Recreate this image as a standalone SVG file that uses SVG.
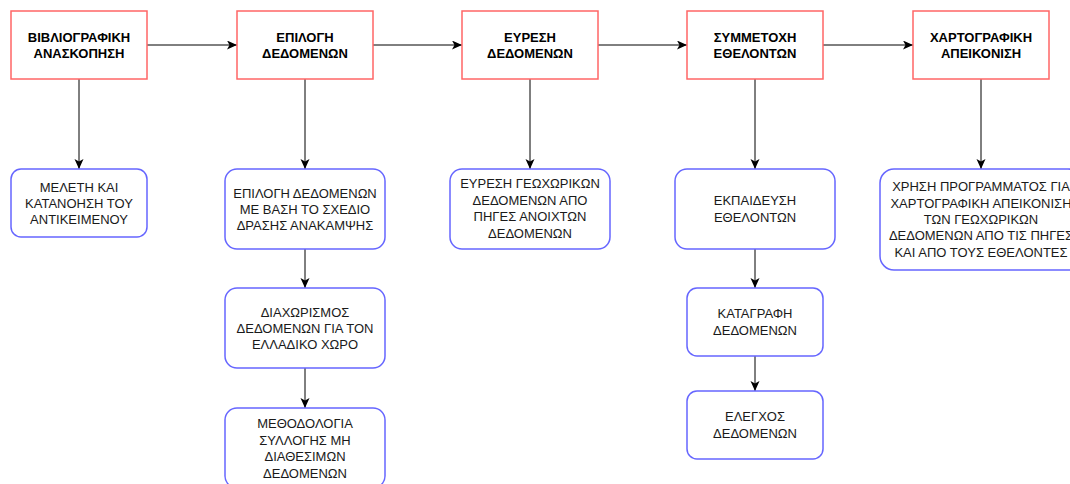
<svg xmlns="http://www.w3.org/2000/svg" width="1070" height="484" viewBox="0 0 1070 484">
<style>
.top{fill:#fff;stroke:#ff6666;stroke-width:1.5}
.sub{fill:#fff;stroke:#6666ff;stroke-width:1.5}
.tt{font-family:"Liberation Sans",Arial,sans-serif;font-size:13px;font-weight:bold;fill:#000;text-anchor:middle}
.st{font-family:"Liberation Sans",Arial,sans-serif;font-size:13px;fill:#1a1a1a;text-anchor:middle}
.ln{fill:none;stroke:#000;stroke-width:1}
</style>
<defs>
<marker id="ah" markerUnits="userSpaceOnUse" markerWidth="12" markerHeight="10" refX="10" refY="4.5" orient="auto">
<path d="M0,0 L10,4.5 L0,9 L2.5,4.5 z" fill="#000"/>
</marker>
</defs>
<rect width="1070" height="484" fill="#fff"/>
<g id="connectors">
<path class="ln" d="M147,45 H237" marker-end="url(#ah)"/>
<path class="ln" d="M373,45 H462" marker-end="url(#ah)"/>
<path class="ln" d="M598,45 H687" marker-end="url(#ah)"/>
<path class="ln" d="M823,45 H913" marker-end="url(#ah)"/>
<path class="ln" d="M79,79 V169" marker-end="url(#ah)"/>
<path class="ln" d="M305,79 V169" marker-end="url(#ah)"/>
<path class="ln" d="M530,79 V169" marker-end="url(#ah)"/>
<path class="ln" d="M755,79 V169" marker-end="url(#ah)"/>
<path class="ln" d="M981,79 V169" marker-end="url(#ah)"/>
<path class="ln" d="M305,249 V288" marker-end="url(#ah)"/>
<path class="ln" d="M305,368 V408" marker-end="url(#ah)"/>
<path class="ln" d="M755,249 V288" marker-end="url(#ah)"/>
<path class="ln" d="M755,356 V391" marker-end="url(#ah)"/>
</g>
<g id="n1"><rect class="top" x="11" y="11" width="136" height="68"/><text class="tt" x="79" y="41.6">ΒΙΒΛΙΟΓΡΑΦΙΚΗ</text><text class="tt" x="79" y="57.6">ΑΝΑΣΚΟΠΗΣΗ</text></g>
<g id="n2"><rect class="top" x="237" y="11" width="136" height="68"/><text class="tt" x="305" y="41.6">ΕΠΙΛΟΓΗ</text><text class="tt" x="305" y="57.6">ΔΕΔΟΜΕΝΩΝ</text></g>
<g id="n3"><rect class="top" x="462" y="11" width="136" height="68"/><text class="tt" x="530" y="41.6">ΕΥΡΕΣΗ</text><text class="tt" x="530" y="57.6">ΔΕΔΟΜΕΝΩΝ</text></g>
<g id="n4"><rect class="top" x="687" y="11" width="136" height="68"/><text class="tt" x="755" y="41.6">ΣΥΜΜΕΤΟΧΗ</text><text class="tt" x="755" y="57.6">ΕΘΕΛΟΝΤΩΝ</text></g>
<g id="n5"><rect class="top" x="913" y="11" width="136" height="68"/><text class="tt" x="981" y="41.6">ΧΑΡΤΟΓΡΑΦΙΚΗ</text><text class="tt" x="981" y="57.6">ΑΠΕΙΚΟΝΙΣΗ</text></g>
<g id="s1"><rect class="sub" x="11" y="169" width="136" height="68" rx="10"/><text class="st" x="79" y="191.6">ΜΕΛΕΤΗ ΚΑΙ</text><text class="st" x="79" y="207.9">ΚΑΤΑΝΟΗΣΗ ΤΟΥ</text><text class="st" x="79" y="224.3">ΑΝΤΙΚΕΙΜΕΝΟΥ</text></g>
<g id="s2a"><rect class="sub" x="225" y="169" width="160" height="80" rx="12"/><text class="st" x="305" y="197.6">ΕΠΙΛΟΓΗ ΔΕΔΟΜΕΝΩΝ</text><text class="st" x="305" y="214">ΜΕ ΒΑΣΗ ΤΟ ΣΧΕΔΙΟ</text><text class="st" x="305" y="230.4">ΔΡΑΣΗΣ ΑΝΑΚΑΜΨΗΣ</text></g>
<g id="s2b"><rect class="sub" x="225" y="288" width="160" height="80" rx="12"/><text class="st" x="305" y="316.6">ΔΙΑΧΩΡΙΣΜΟΣ</text><text class="st" x="305" y="333">ΔΕΔΟΜΕΝΩΝ ΓΙΑ ΤΟΝ</text><text class="st" x="305" y="349.4">ΕΛΛΑΔΙΚΟ ΧΩΡΟ</text></g>
<g id="s2c"><rect class="sub" x="225" y="408" width="160" height="80" rx="12"/><text class="st" x="305" y="428.4">ΜΕΘΟΔΟΛΟΓΙΑ</text><text class="st" x="305" y="444.8">ΣΥΛΛΟΓΗΣ ΜΗ</text><text class="st" x="305" y="461.2">ΔΙΑΘΕΣΙΜΩΝ</text><text class="st" x="305" y="477.6">ΔΕΔΟΜΕΝΩΝ</text></g>
<g id="s3"><rect class="sub" x="450" y="169" width="160" height="80" rx="12"/><text class="st" x="530" y="188.4">ΕΥΡΕΣΗ ΓΕΩΧΩΡΙΚΩΝ</text><text class="st" x="530" y="204.8">ΔΕΔΟΜΕΝΩΝ ΑΠΟ</text><text class="st" x="530" y="221.2">ΠΗΓΕΣ ΑΝΟΙΧΤΩΝ</text><text class="st" x="530" y="237.6">ΔΕΔΟΜΕΝΩΝ</text></g>
<g id="s4a"><rect class="sub" x="675" y="169" width="160" height="80" rx="12"/><text class="st" x="755" y="205.4">ΕΚΠΑΙΔΕΥΣΗ</text><text class="st" x="755" y="221.8">ΕΘΕΛΟΝΤΩΝ</text></g>
<g id="s4b"><rect class="sub" x="687" y="288" width="136" height="68" rx="10"/><text class="st" x="755" y="318.4">ΚΑΤΑΓΡΑΦΗ</text><text class="st" x="755" y="334.8">ΔΕΔΟΜΕΝΩΝ</text></g>
<g id="s4c"><rect class="sub" x="687" y="391" width="136" height="68" rx="10"/><text class="st" x="755" y="421.4">ΕΛΕΓΧΟΣ</text><text class="st" x="755" y="437.8">ΔΕΔΟΜΕΝΩΝ</text></g>
<g id="s5"><rect class="sub" x="880" y="169" width="202" height="101" rx="14"/><text class="st" x="981" y="191.2">ΧΡΗΣΗ ΠΡΟΓΡΑΜΜΑΤΟΣ ΓΙΑ</text><text class="st" x="981" y="207.6">ΧΑΡΤΟΓΡΑΦΙΚΗ ΑΠΕΙΚΟΝΙΣΗ</text><text class="st" x="981" y="224">ΤΩΝ ΓΕΩΧΩΡΙΚΩΝ</text><text class="st" x="981" y="240.4">ΔΕΔΟΜΕΝΩΝ ΑΠΟ ΤΙΣ ΠΗΓΕΣ</text><text class="st" x="981" y="256.8">ΚΑΙ ΑΠΟ ΤΟΥΣ ΕΘΕΛΟΝΤΕΣ</text></g>
</svg>
